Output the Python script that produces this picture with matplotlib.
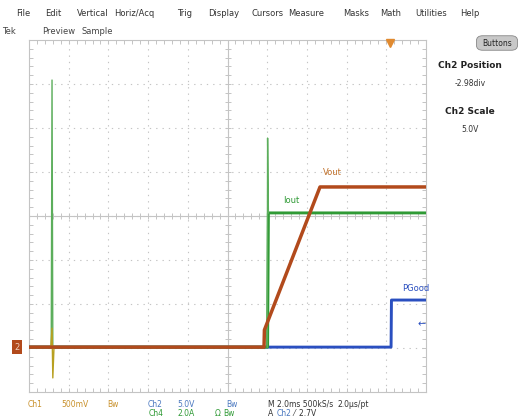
import numpy as np
import matplotlib.pyplot as plt
from matplotlib.patches import FancyBboxPatch

# Scope capture: time in ms (2 ms/div), levels in screen divisions
vout_t = [0.0, 11.84, 11.86, 14.66, 20.0]
vout_y = [-2.98, -2.98, -2.59, 0.66, 0.66]

iout_t = [0.0, 12.02, 12.06, 20.0]
iout_y = [-2.98, -2.98, 0.07, 0.07]
iout_spike1_t = [1.12, 1.16, 1.20]
iout_spike1_y = [-2.98, 3.09, -2.98]
iout_spike2_t = [12.0, 12.02, 12.06]
iout_spike2_y = [-2.98, 1.77, 0.07]

ch1_t = [1.10, 1.16, 1.20, 1.26]
ch1_y = [-2.98, -2.55, -3.68, -2.98]

pgood_t = [0.0, 18.24, 18.26, 20.0]
pgood_y = [-2.98, -2.98, -1.91, -1.91]

ORANGE = "#b24a1c"
GREEN = "#2f9a35"
BLUE = "#2a4fc0"
GOLD = "#c8902a"
CH2TXT = "#4a78c0"
GRAY = "#c4c4c4"

W, H = 518, 419
fig = plt.figure(figsize=(W / 100, H / 100), dpi=100)
fig.patch.set_facecolor("white")

def px(x, y):
    return x / W, 1 - y / H

# graticule box in pixels
gl, gt, gr, gb = 29, 40, 426, 392
ax = fig.add_axes([gl / W, 1 - gb / H, (gr - gl) / W, (gb - gt) / H])
ax.set_xlim(0, 20)
ax.set_ylim(-4, 4)
for s in ax.spines.values():
    s.set_color(GRAY)
    s.set_linewidth(0.8)
ax.set_xticks(np.arange(0, 20.01, 0.4), minor=True)
ax.set_yticks(np.arange(-4, 4.01, 0.2), minor=True)
ax.set_xticks([])
ax.set_yticks([])
ax.tick_params(which="minor", direction="in", length=3, color=GRAY, width=0.7,
               top=True, right=True, labelbottom=False, labelleft=False)

# dotted division grid
for gx in np.arange(2, 20, 2):
    ax.plot([gx, gx], [-4, 4], color=GRAY, lw=0.8, ls=(0, (1.2, 4.5)), zorder=1)
for gy in np.arange(-3, 4, 1):
    ax.plot([0, 20], [gy, gy], color=GRAY, lw=0.8, ls=(0, (1.2, 4.5)), zorder=1)
# center cross with ticks
ax.axhline(0, color=GRAY, lw=0.8, zorder=1)
ax.axvline(10, color=GRAY, lw=0.8, zorder=1)
tx = np.arange(0, 20.01, 0.4)
ax.plot(tx, np.zeros_like(tx), ls="none", marker="|", ms=5, color=GRAY, mew=0.7, zorder=1)
ty = np.arange(-4, 4.01, 0.2)
ax.plot(np.full_like(ty, 10), ty, ls="none", marker="_", ms=5, color=GRAY, mew=0.7, zorder=1)

# traces
ax.plot(pgood_t, pgood_y, color=BLUE, lw=2.1, zorder=3)
ax.plot(iout_t, iout_y, color=GREEN, lw=2.1, zorder=4)
ax.plot(iout_spike1_t, iout_spike1_y, color="#5cae5c", lw=1.0, zorder=4)
ax.plot(iout_spike2_t, iout_spike2_y, color="#5cae5c", lw=1.0, zorder=4)
ax.plot(ch1_t, ch1_y, color="#b8a020", lw=1.0, zorder=4)
ax.plot(vout_t, vout_y, color=ORANGE, lw=2.5, zorder=5)

ax.text(14.8, 1.0, "Vout", color="#c0702a", fontsize=6, ha="left", va="center")
ax.text(12.8, 0.35, "Iout", color=GREEN, fontsize=6, ha="left", va="center")
ax.text(18.8, -1.65, "PGood", color=BLUE, fontsize=6, ha="left", va="center")
ax.text(19.55, -2.45, "\u2190", color=BLUE, fontsize=7, ha="left", va="center")

# trigger marker and ground marker
ax.plot([18.2], [3.93], marker="v", ms=6, color="#e08a30", clip_on=False, zorder=6)
ax.text(-0.6, -2.98, "2", color="#f0d0c0", fontsize=6, ha="center", va="center",
        bbox=dict(boxstyle="square,pad=0.3", fc=ORANGE, ec="none"), clip_on=False)

# menu bar
menu = [("File", 16), ("Edit", 45), ("Vertical", 77), ("Horiz/Acq", 114), ("Trig", 177),
        ("Display", 208), ("Cursors", 251), ("Measure", 288), ("Masks", 343),
        ("Math", 380), ("Utilities", 415), ("Help", 460)]
for label, x in menu:
    fig.text(*px(x, 14), label, fontsize=6, color="#333333", va="center", ha="left")
for label, x in [("Tek", 2), ("Preview", 42), ("Sample", 82)]:
    fig.text(*px(x, 32), label, fontsize=6, color="#444444", va="center", ha="left")

bx, by = px(478, 49)
fig.patches.append(FancyBboxPatch((bx, by), 38 / W, 12 / H, boxstyle="round,pad=0.003,rounding_size=0.012",
                                  transform=fig.transFigure, fc="#c8c8c8", ec="#888888", lw=0.6))
fig.text(*px(497, 43), "Buttons", fontsize=5.5, color="#222222", ha="center", va="center")

# side panel
fig.text(*px(470, 65), "Ch2 Position", fontsize=6.5, weight="bold", color="#222222", ha="center", va="center")
fig.text(*px(470, 84), "-2.98div", fontsize=5.5, color="#333333", ha="center", va="center")
fig.text(*px(470, 111), "Ch2 Scale", fontsize=6.5, weight="bold", color="#222222", ha="center", va="center")
fig.text(*px(470, 130), "5.0V", fontsize=5.5, color="#333333", ha="center", va="center")

# status lines
row1 = [("Ch1", 28, GOLD), ("500mV", 61, GOLD), ("Bw", 107, GOLD), ("Ch2", 148, CH2TXT),
        ("5.0V", 177, CH2TXT), ("Bw", 226, CH2TXT), ("M 2.0ms 500kS/s", 268, "#333333"),
        ("2.0\u03bcs/pt", 337, "#333333")]
for label, x, c in row1:
    fig.text(*px(x, 404), label, fontsize=5.5, color=c, va="center", ha="left")
row2 = [("Ch4", 149, GREEN), ("2.0A", 178, GREEN), ("\u03a9", 215, GREEN), ("Bw", 223, GREEN),
        ("A", 268, "#333333"), ("Ch2", 277, CH2TXT), ("\u2044  2.7V", 293, "#333333")]
for label, x, c in row2:
    fig.text(*px(x, 413), label, fontsize=5.5, color=c, va="center", ha="left")

fig.savefig("out.png", dpi=100)
